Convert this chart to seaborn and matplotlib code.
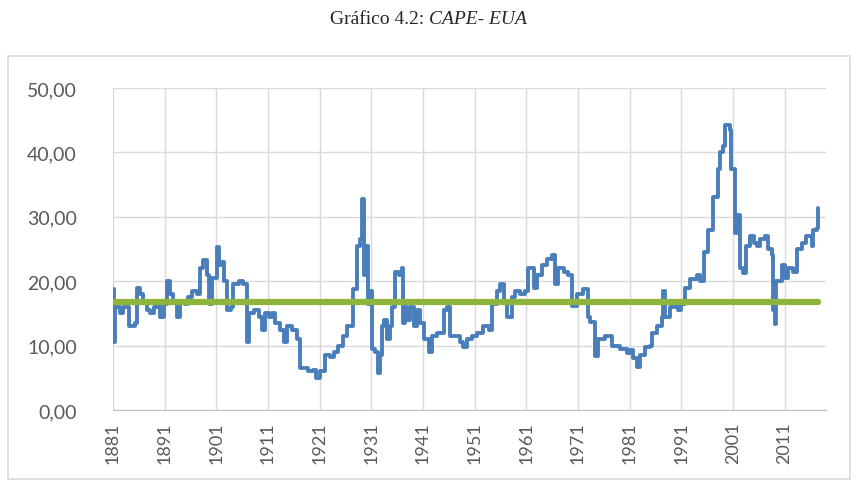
import matplotlib.pyplot as plt
import pandas as pd
import seaborn as sns
from matplotlib.patches import Rectangle

# CAPE (EUA): breakpoints of the stepped series
anos = [
    1881.0, 1881.1, 1881.4, 1882.4, 1883.0, 1884.0, 1885.3, 1885.6, 1886.3,
    1886.9, 1887.6, 1888.2, 1888.9, 1889.5, 1890.1, 1890.8, 1891.4, 1892.1,
    1892.7, 1893.4, 1894.0, 1895.0, 1895.6, 1896.3, 1897.2, 1897.9, 1898.5,
    1899.2, 1899.5, 1900.1, 1901.1, 1901.6, 1902.1, 1902.5, 1903.0, 1903.8,
    1904.3, 1905.3, 1906.1, 1906.9, 1907.4, 1908.2, 1909.2, 1909.8, 1910.5,
    1911.1, 1911.7, 1912.4, 1913.4, 1914.0, 1914.6, 1915.6, 1916.6, 1917.1,
    1917.9, 1918.8, 1919.8, 1920.3, 1921.1, 1922.1, 1923.0, 1923.7, 1924.6,
    1925.6, 1926.3, 1927.5, 1928.2, 1928.8, 1929.2, 1929.5, 1929.8, 1930.3,
    1930.8, 1931.1, 1931.7, 1932.2, 1932.6, 1933.0, 1933.5, 1934.0, 1934.6,
    1935.0, 1935.6, 1936.3, 1936.9, 1937.2, 1937.5, 1937.9, 1938.5, 1939.2,
    1939.8, 1940.5, 1941.1, 1942.1, 1942.7, 1943.7, 1945.0, 1945.6, 1946.3,
    1947.2, 1948.2, 1948.8, 1949.5, 1950.4, 1951.4, 1952.7, 1953.7, 1954.3,
    1955.3, 1955.9, 1956.6, 1957.2, 1958.2, 1958.8, 1959.8, 1960.8, 1961.4,
    1962.4, 1963.0, 1964.0, 1965.0, 1965.9, 1966.6, 1967.2, 1968.2, 1969.1,
    1969.9, 1970.8, 1972.0, 1973.0, 1973.4, 1974.3, 1974.9, 1976.2, 1977.5,
    1979.1, 1980.4, 1981.0, 1981.7, 1982.4, 1983.0, 1984.0, 1984.9, 1985.3,
    1986.2, 1987.2, 1987.5, 1987.8, 1988.8, 1989.7, 1990.4, 1991.0, 1991.7,
    1992.7, 1994.0, 1994.7, 1995.3, 1996.2, 1997.2, 1998.0, 1998.5, 1999.0,
    1999.4, 2000.4, 2000.7, 2001.4, 2001.7, 2002.3, 2003.0, 2003.6, 2004.3,
    2005.0, 2005.6, 2006.2, 2007.2, 2007.8, 2008.5, 2008.7, 2009.1, 2009.4,
    2010.4, 2011.0, 2011.6, 2012.6, 2013.3, 2014.3, 2015.2, 2016.2, 2016.5,
    2017.2, 2017.5,
]
cape = [
    18.8, 10.5, 16.0, 15.0, 16.0, 13.0, 13.5, 19.0, 18.0, 17.0, 15.5, 15.0,
    16.0, 17.0, 14.5, 16.5, 20.0, 18.0, 17.0, 14.5, 17.0, 16.5, 17.5, 18.5,
    18.0, 22.0, 23.3, 21.0, 16.5, 20.5, 25.3, 22.5, 23.0, 20.0, 15.5, 16.0,
    19.5, 20.0, 19.5, 10.5, 15.0, 15.5, 14.5, 12.5, 15.0, 14.5, 15.0, 13.5,
    12.5, 10.5, 13.0, 12.5, 11.0, 6.5, 6.5, 6.0, 6.2, 5.0, 6.0, 8.5, 8.3,
    9.0, 10.0, 11.5, 13.0, 18.8, 25.5, 26.5, 32.8, 21.0, 25.5, 16.5, 18.5,
    9.5, 9.0, 5.7, 8.5, 13.0, 14.0, 11.0, 13.0, 16.0, 21.5, 21.0, 22.0,
    13.5, 16.0, 14.0, 16.0, 13.0, 15.5, 13.5, 11.0, 9.0, 11.5, 12.0, 15.5,
    16.0, 11.5, 11.5, 10.5, 9.8, 11.0, 11.5, 12.0, 13.0, 12.5, 16.5, 18.5,
    19.5, 17.0, 14.5, 17.5, 18.5, 18.0, 18.5, 22.0, 19.0, 21.0, 22.5, 23.5,
    24.0, 19.5, 22.0, 21.5, 21.0, 16.2, 18.0, 18.8, 14.5, 13.6, 8.4, 11.0,
    11.5, 10.0, 9.5, 8.8, 9.3, 8.0, 6.6, 8.5, 9.8, 10.0, 12.0, 13.0, 14.5,
    18.5, 14.5, 16.0, 17.0, 15.5, 16.5, 19.0, 20.3, 21.0, 20.0, 24.5, 28.0,
    33.0, 37.5, 40.0, 41.0, 44.2, 43.5, 37.5, 27.5, 30.3, 22.0, 21.2, 25.5,
    27.0, 26.0, 25.5, 26.5, 27.0, 25.0, 24.0, 15.5, 13.3, 20.0, 22.5, 20.5,
    22.0, 21.5, 25.0, 26.0, 27.0, 25.5, 28.0, 28.2, 31.3,
]
media_cape = 16.7

x_ticks = list(range(1881, 2012, 10))
y_ticks = [0, 10, 20, 30, 40, 50]

df = pd.DataFrame({"ano": anos, "cape": cape})
df_media = pd.DataFrame({"ano": [anos[0], anos[-1]], "cape": [media_cape, media_cape]})

sns.set_style("white")
plt.rcParams["font.family"] = ["Lato", "DejaVu Sans"]

fig = plt.figure(figsize=(8.58, 4.89), dpi=100)

# outer chart box
fig.patches.append(
    Rectangle((8 / 858, 9 / 489), 842 / 858, 423 / 489, transform=fig.transFigure,
              fill=False, edgecolor="#D9D9D9", linewidth=1.2)
)

ax = fig.add_axes([113 / 858, 78 / 489, 713 / 858, 322 / 489])

sns.lineplot(data=df, x="ano", y="cape", ax=ax, color="#4A7EBB", linewidth=2.8,
             drawstyle="steps-post", estimator=None, sort=False)
sns.lineplot(data=df_media, x="ano", y="cape", ax=ax, color="#8DB53C", linewidth=4.5,
             estimator=None)

ax.set_xlim(1881, 2019)
ax.set_ylim(0, 50)
ax.set_xticks(x_ticks)
ax.set_xticklabels([str(t) for t in x_ticks], rotation=90, fontsize=13, color="#595959")
ax.set_yticks(y_ticks)
ax.set_yticklabels([f"{t:.2f}".replace(".", ",") for t in y_ticks], fontsize=14, color="#595959")
ax.tick_params(axis="x", length=0, pad=8)
ax.tick_params(axis="y", length=0, pad=26)
ax.grid(True, color="#D9D9D9", linewidth=1)
ax.set_axisbelow(True)
for side in ["left", "right", "top"]:
    ax.spines[side].set_visible(False)
ax.spines["bottom"].set_color("#BFBFBF")
ax.set_xlabel("")
ax.set_ylabel("")

fig.text(0.5, 1 - 20 / 489, "Gráfico 4.2: ", ha="right", va="center",
         fontsize=14, family="Liberation Serif")
fig.text(0.5, 1 - 20 / 489, "CAPE- EUA", ha="left", va="center",
         fontsize=14, family="Liberation Serif", style="italic")

fig.savefig("out.png", dpi=100)
